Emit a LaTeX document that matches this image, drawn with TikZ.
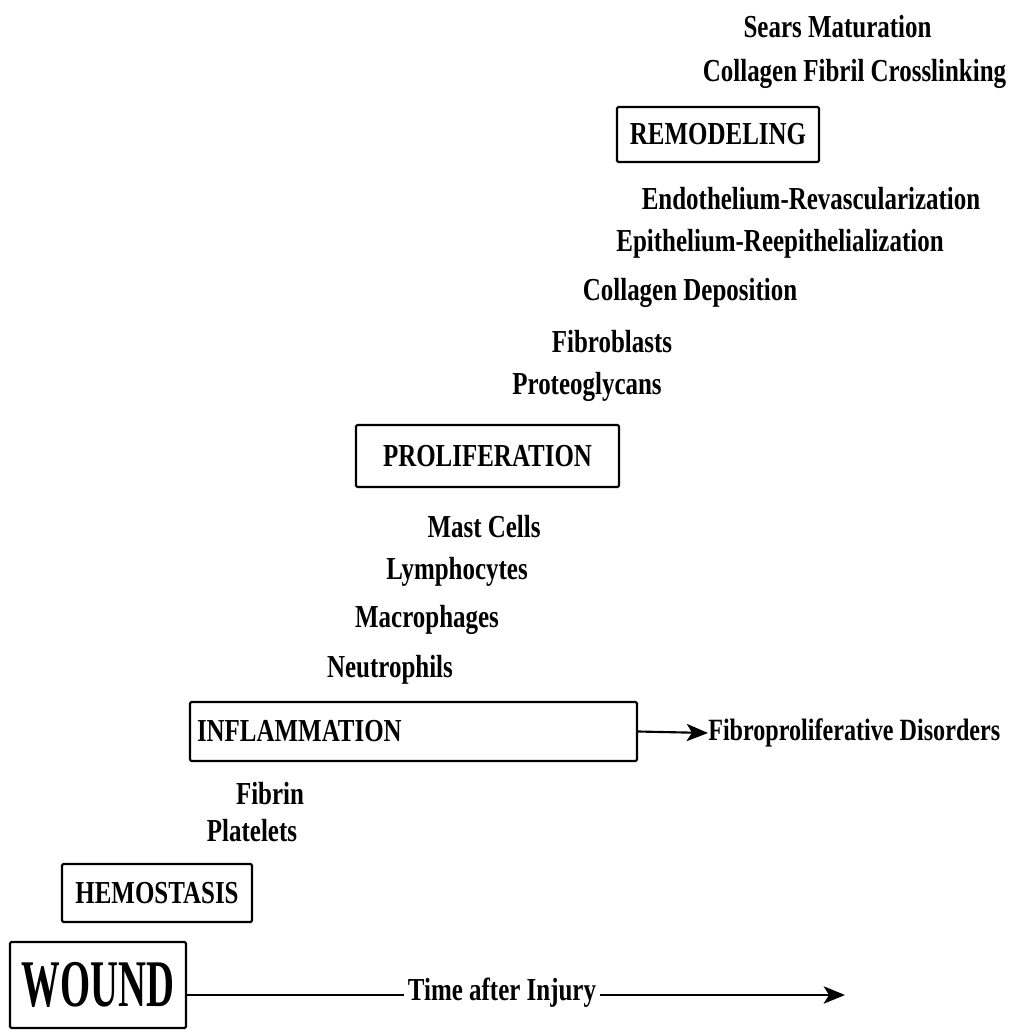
\documentclass[tikz,border=0pt]{standalone}
\usepackage{fontspec}
\setmainfont{Liberation Serif}[FakeStretch=0.78]
\newfontfamily\woundfont{Liberation Serif}[FakeStretch=0.58]
\usetikzlibrary{arrows.meta}
\begin{document}
\begin{tikzpicture}[x=0.75pt,y=-0.75pt,
  lbl/.style={font=\fontsize{24}{28}\selectfont\bfseries, inner sep=0pt},
  phase/.style={draw, line width=1.6pt, rounded corners=1pt, font=\fontsize{24}{28}\selectfont\bfseries, inner sep=0pt},
  conn/.style={line width=1.6pt},
  arr/.style={line width=1.6pt, -{Stealth[length=16pt,width=13pt,inset=4pt]}}]
\useasboundingbox (0,0) rectangle (1009,1030);
\node[lbl] (sears) at (837.5,27) {Sears Maturation};
\node[lbl] (cross) at (854.5,74) {Collagen Fibril Crosslinking};
\node[phase, minimum width=202*0.75pt, minimum height=55*0.75pt] (remod) at (718,134.5) {REMODELING};
\node[lbl] (endo) at (811,199) {Endothelium-Revascularization};
\node[lbl] (epi) at (780,244) {Epithelium-Reepithelialization};
\node[lbl] (colldep) at (690,293) {Collagen Deposition};
\node[lbl] (fibro) at (612,342) {Fibroblasts};
\node[lbl] (proteo) at (587,387) {Proteoglycans};
\node[phase, minimum width=263*0.75pt, minimum height=62*0.75pt] (prolif) at (487.5,456) {PROLIFERATION};
\node[lbl] (mast) at (484,527) {Mast Cells};
\node[lbl] (lymph) at (457,572) {Lymphocytes};
\node[lbl] (macro) at (427,620) {Macrophages};
\node[lbl] (neutro) at (390,670) {Neutrophils};
\node[phase, minimum width=447*0.75pt, minimum height=59*0.75pt, text width=433*0.75pt, align=left] (inflam) at (413.5,731.5) {INFLAMMATION};
\node[lbl, anchor=west, font=\fontsize{23.2}{27}\selectfont\bfseries] (fpd) at (708,733) {Fibroproliferative Disorders};
\draw[arr] (inflam.east) -- (fpd.west);
\node[lbl] (fibrin) at (270,794) {Fibrin};
\node[lbl] (plate) at (252,831) {Platelets};
\node[phase, minimum width=190*0.75pt, minimum height=58*0.75pt] (hemo) at (157,893) {HEMOSTASIS};
\node[phase, minimum width=176*0.75pt, minimum height=86*0.75pt, font=\fontsize{50}{54}\selectfont\bfseries\woundfont] (wound) at (98,985) {WOUND};
\node[lbl] (time) at (502,993) {Time after Injury};
\coordinate (tend) at (845,995);
\draw[conn] (wound.east |- tend) -- ([xshift=-3pt]time.west |- tend);
\draw[arr] ([xshift=3pt]time.east |- tend) -- (tend);
\end{tikzpicture}
\end{document}
